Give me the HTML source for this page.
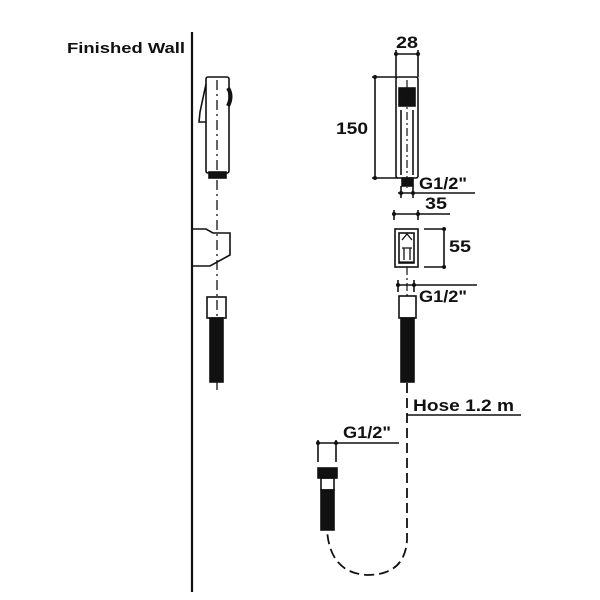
<!DOCTYPE html>
<html><head><style>html,body{margin:0;padding:0;background:#fff}svg{display:block}text{font-family:"Liberation Sans",sans-serif;font-weight:bold;fill:#111}</style></head>
<body>
<svg width="600" height="600" viewBox="0 0 600 600" xmlns="http://www.w3.org/2000/svg">
<g stroke="#111" fill="none" stroke-width="1.6">
<line x1="192" y1="32" x2="192" y2="592" stroke-width="2.2"/>
<rect x="206" y="77" width="23" height="96" rx="2"/>
<path d="M206 84 L200 112 L199 122 L206 122"/>
<path d="M228 88 Q233 96 228 106" stroke-width="4"/>
<rect x="209" y="172" width="17" height="6" fill="#111"/>
<line x1="217" y1="80" x2="217" y2="390" stroke-dasharray="10,4,2,4" stroke-width="1.3"/>
<path d="M192 229 L206 229 L213 233 L230 233 L230 255 L210 266 L192 266"/>
<rect x="207" y="297" width="19" height="21"/>
<rect x="210" y="318" width="13" height="64" fill="#111"/>
<rect x="396" y="77" width="22" height="101" rx="2"/>
<rect x="399" y="88" width="16" height="18" fill="#111"/>
<line x1="401" y1="110" x2="401" y2="175"/>
<line x1="413" y1="110" x2="413" y2="175"/>
<line x1="407" y1="80" x2="407" y2="188" stroke-dasharray="8,3,2,3" stroke-width="1.2"/>
<rect x="402" y="178" width="11" height="8" fill="#111"/>
<line x1="396" y1="50" x2="396" y2="77"/><line x1="418" y1="50" x2="418" y2="77"/>
<line x1="396" y1="54" x2="418" y2="54"/>
<line x1="372" y1="77" x2="396" y2="77"/><line x1="372" y1="178" x2="398" y2="178"/>
<line x1="375" y1="77" x2="375" y2="178"/>
<line x1="401" y1="186" x2="401" y2="198"/><line x1="413" y1="186" x2="413" y2="198"/>
<line x1="398" y1="193" x2="475" y2="193"/>
<line x1="394" y1="210" x2="394" y2="220"/><line x1="418" y1="210" x2="418" y2="220"/>
<line x1="394" y1="214" x2="450" y2="214"/>
<rect x="395" y="229" width="23" height="38"/>
<rect x="399" y="233" width="15" height="30"/>
<path d="M402 240 L407 234 L412 240 M402 248 L412 248 M404 248 L404 260 M410 248 L410 260 M399 262 L414 262" stroke-width="1.3"/>
<line x1="424" y1="229" x2="446" y2="229"/><line x1="424" y1="267" x2="446" y2="267"/>
<line x1="444" y1="229" x2="444" y2="267"/>
<line x1="407" y1="267" x2="407" y2="296" stroke-dasharray="8,3,2,3" stroke-width="1.2"/>
<line x1="398" y1="280" x2="398" y2="292"/><line x1="414" y1="280" x2="414" y2="292"/>
<line x1="396" y1="285" x2="477" y2="285"/>
<rect x="399" y="296" width="17" height="22"/>
<rect x="401" y="318" width="13" height="64" fill="#111"/>
<path d="M407 383 L407 540 Q405 575 367 575 Q330 573 327 530" stroke-dasharray="10,5" stroke-width="1.8"/>
<line x1="407" y1="415" x2="521" y2="415"/>
<line x1="318" y1="440" x2="318" y2="462"/><line x1="336" y1="440" x2="336" y2="462"/>
<line x1="317" y1="443" x2="399" y2="443"/>
<rect x="318" y="468" width="19" height="10" fill="#111"/>
<rect x="321" y="478" width="13" height="12"/>
<rect x="321" y="490" width="13" height="40" fill="#111"/>
</g>
<g fill="#111">
<circle cx="396" cy="54" r="2"/><circle cx="418" cy="54" r="2"/>
<circle cx="375" cy="77" r="2"/><circle cx="375" cy="178" r="2"/>
<circle cx="401" cy="193" r="2"/><circle cx="413" cy="193" r="2"/>
<circle cx="394" cy="214" r="2"/><circle cx="418" cy="214" r="2"/>
<circle cx="444" cy="229" r="2"/><circle cx="444" cy="267" r="2"/>
<circle cx="398" cy="285" r="2"/><circle cx="414" cy="285" r="2"/>
<circle cx="318" cy="443" r="2"/><circle cx="336" cy="443" r="2"/>
</g>
<text x="67" y="53" font-size="15" textLength="118" lengthAdjust="spacingAndGlyphs">Finished Wall</text>
<text x="396" y="48" font-size="17" textLength="22" lengthAdjust="spacingAndGlyphs">28</text>
<text x="336" y="134" font-size="17" textLength="32" lengthAdjust="spacingAndGlyphs">150</text>
<text x="419" y="189" font-size="17" textLength="48" lengthAdjust="spacingAndGlyphs">G1/2"</text>
<text x="425" y="209" font-size="17" textLength="22" lengthAdjust="spacingAndGlyphs">35</text>
<text x="449" y="252" font-size="17" textLength="22" lengthAdjust="spacingAndGlyphs">55</text>
<text x="419" y="302" font-size="17" textLength="48" lengthAdjust="spacingAndGlyphs">G1/2"</text>
<text x="413" y="411" font-size="17" textLength="101" lengthAdjust="spacingAndGlyphs">Hose 1.2 m</text>
<text x="343" y="438" font-size="17" textLength="48" lengthAdjust="spacingAndGlyphs">G1/2"</text>
</svg>
</body></html>
